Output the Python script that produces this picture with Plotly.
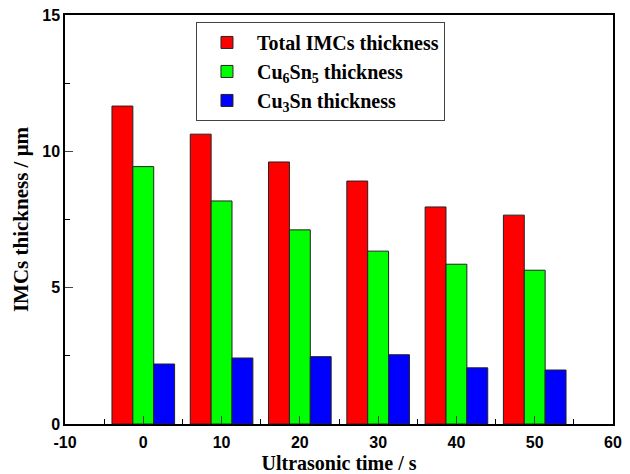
import plotly.graph_objects as go

times = [0, 10, 20, 30, 40, 50]
total_imc = [11.66, 10.63, 9.61, 8.91, 7.96, 7.66]
cu6sn5 = [9.44, 8.18, 7.12, 6.34, 5.86, 5.64]
cu3sn = [2.20, 2.42, 2.47, 2.54, 2.06, 1.98]

x_tick_vals = [-10, 0, 10, 20, 30, 40, 50, 60]
x_tick_text = ["-10", "0", "10", "20", "30", "40", "50", "60"]
y_tick_vals = [0, 5, 10, 15]
y_tick_text = ["0", "5", "10", "15"]

names = ["Total IMCs thickness",
         "Cu<sub>6</sub>Sn<sub>5</sub> thickness",
         "Cu<sub>3</sub>Sn thickness"]
colors = ["#FF0000", "#00FF00", "#0000FF"]

fig = go.Figure()
for name, vals, c in zip(names, [total_imc, cu6sn5, cu3sn], colors):
    fig.add_trace(go.Bar(x=times, y=vals, name=name, marker_color=c,
                         marker_line=dict(color="#222222", width=1)))

tickfont = dict(family="Liberation Sans, Arial", size=16, color="black", weight="bold")
titlefont = dict(family="Liberation Serif, Times New Roman", size=20, color="black", weight="bold")

fig.update_layout(
    width=630, height=474,
    margin=dict(l=65, r=17, t=15, b=50, autoexpand=False),
    paper_bgcolor="white", plot_bgcolor="white",
    barmode="group", bargap=0.2, bargroupgap=0,
    showlegend=True,
    legend=dict(x=0.239, y=0.983, xanchor="left", yanchor="top",
                bgcolor="white", bordercolor="#444444", borderwidth=1,
                font=dict(family="Liberation Serif, Times New Roman", size=20,
                          color="black", weight="bold"),
                itemwidth=50, tracegroupgap=4),
    xaxis=dict(range=[-10, 60], tickmode="array", tickvals=x_tick_vals,
               ticktext=x_tick_text, ticks="inside", ticklen=8,
               tickwidth=1, showline=True, linecolor="black", linewidth=1.5,
               mirror=True, showgrid=False, zeroline=False, tickfont=tickfont,
               automargin=False, ticklabelstandoff=3,
               minor=dict(dtick=5, tick0=-5, ticks="inside", ticklen=5, tickcolor="black"),
               title=dict(text="Ultrasonic time / s", font=titlefont, standoff=6)),
    yaxis=dict(range=[0, 15], tickmode="array", tickvals=y_tick_vals,
               ticktext=y_tick_text, ticks="inside", ticklen=8,
               tickwidth=1, showline=True, linecolor="black", linewidth=1.5,
               mirror=True, showgrid=False, zeroline=False, tickfont=tickfont,
               automargin=False,
               minor=dict(dtick=2.5, tick0=0, ticks="inside", ticklen=5, tickcolor="black"),
               title=dict(text="IMCs thickness / μm",
                          font=dict(family="Liberation Serif, Times New Roman", size=21,
                                    color="black", weight="bold"),
                          standoff=8)),
)

fig.write_html("out.html", config={"displayModeBar": False},
               post_script="document.body.style.margin='0';document.body.style.overflow='hidden';")
